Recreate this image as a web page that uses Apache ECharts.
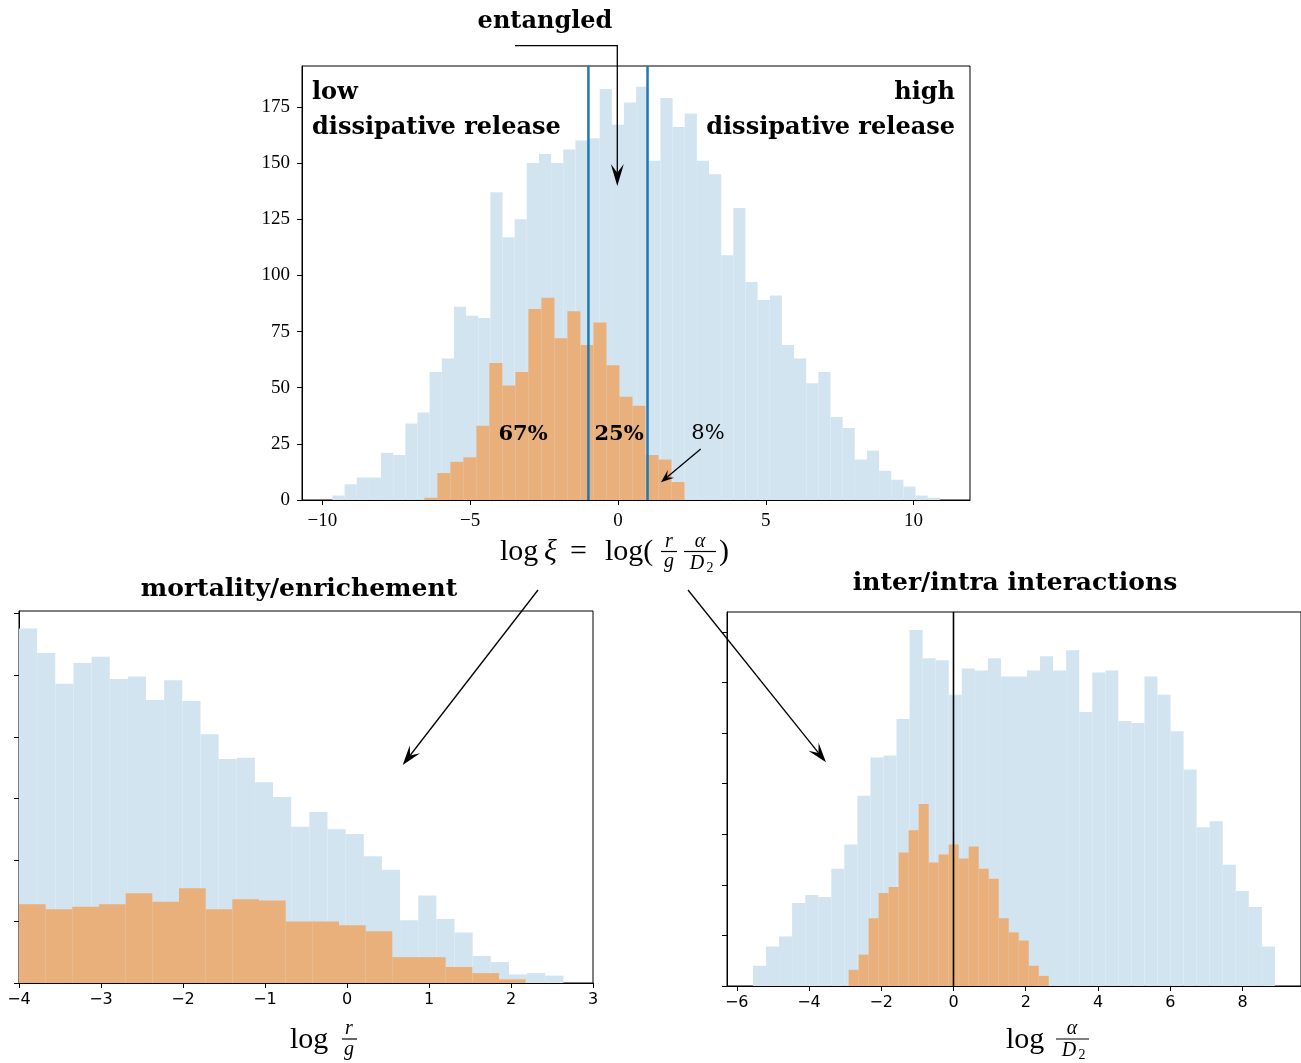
<!DOCTYPE html>
<html>
<head>
<meta charset="utf-8">
<script src="https://cdn.jsdelivr.net/npm/echarts@6/dist/echarts.min.js"></script>
<style>
  html, body { margin: 0; padding: 0; background: #fff; }
  #chart { width: 1301px; height: 1063px; }
</style>
</head>
<body>
<div id="chart"></div>
<script>
// log xi histogram (top)
var xiBlueStart = -9.66;
var xiBlueWidth = 0.411;
var xiBlueCounts = [2, 7, 10, 10, 21, 20, 34, 39, 57, 63, 86, 82, 81, 137, 117, 125, 150, 154, 150, 156,
  160, 161, 183, 167, 177, 184, 151, 179, 166, 172, 151, 145, 109, 130, 97, 89, 91, 69, 63, 52,
  57, 37, 32, 18, 22, 13, 9, 6, 2, 1];
var xiOrangeStart = -6.55;
var xiOrangeWidth = 0.44;
var xiOrangeCounts = [1, 12, 17, 19, 33, 61, 51, 57, 85, 90, 72, 84, 69, 79, 60, 46, 42, 20, 18, 8];
var entangledBounds = [-1, 1];
var xiTicksX = [-10, -5, 0, 5, 10];
var xiTicksY = [0, 25, 50, 75, 100, 125, 150, 175];

// log r/g histogram (bottom left)
var rgBlueStart = -4;
var rgBlueWidth = 0.2213;
var rgBlueCounts = [288, 268, 243, 260, 265, 247, 249, 230, 246, 229, 202, 182, 183, 163, 151, 127, 139, 125, 121, 103,
  92, 51, 71, 52, 41, 22, 17, 7, 8, 6];
var rgOrangeStart = -4;
var rgOrangeWidth = 0.3252;
var rgOrangeCounts = [64, 60, 62, 64, 73, 66, 77, 60, 68, 67, 50, 50, 47, 42, 21, 21, 13, 8, 3];
var rgTicksX = [-4, -3, -2, -1, 0, 1, 2, 3];
var rgTicksY = [0, 50, 100, 150, 200, 250, 300];

// log alpha/D2 histogram (bottom right)
var adBlueStart = -5.55;
var adBlueWidth = 0.3612;
var adBlueCounts = [20, 39, 49, 82, 90, 88, 116, 140, 188, 226, 228, 264, 352, 324, 322, 288, 314, 312, 324, 306,
  306, 312, 326, 312, 332, 271, 310, 312, 262, 260, 306, 288, 252, 214, 157, 163, 120, 94, 78, 39];
var adOrangeStart = -2.903;
var adOrangeWidth = 0.277;
var adOrangeCounts = [16, 31, 67, 92, 98, 132, 154, 180, 122, 130, 140, 126, 138, 116, 106, 67, 53, 45, 20, 10];
var adZero = [0];
var adTicksX = [-6, -4, -2, 0, 2, 4, 6, 8];
var adTicksY = [0, 50, 100, 150, 200, 250, 300, 350];

var BLUE = '#d2e4f0';
var ORANGE = '#e9b07c';
var SERIF = '"Liberation Serif", serif';
var BOLD = '"DejaVu Serif", serif';
var SANS = '"DejaVu Sans", sans-serif';

function minus(v) { return String(v).replace('-', '\u2212'); }

function hist(idx, start, width, counts, color) {
  var data = counts.map(function (c, i) { return [start + i * width, start + (i + 1) * width, c]; });
  return {
    type: 'custom',
    xAxisIndex: idx, yAxisIndex: idx,
    data: data,
    encode: { x: [0, 1], y: 2 },
    silent: true,
    renderItem: function (params, api) {
      var p0 = api.coord([api.value(0), 0]);
      var p1 = api.coord([api.value(1), api.value(2)]);
      return {
        type: 'rect',
        shape: { x: p0[0], y: p1[1], width: p1[0] - p0[0], height: p0[1] - p1[1] },
        style: { fill: color }
      };
    }
  };
}

function vlines(idx, xs, color, w) {
  return {
    type: 'custom',
    xAxisIndex: idx, yAxisIndex: idx,
    data: xs.map(function (x) { return [x]; }),
    encode: { x: 0 },
    silent: true,
    z: 5,
    renderItem: function (params, api) {
      var p = api.coord([api.value(0), 0]);
      var top = params.coordSys.y;
      return {
        type: 'line',
        shape: { x1: p[0], y1: p[1], x2: p[0], y2: top },
        style: { stroke: color, lineWidth: w }
      };
    }
  };
}

function xAx(idx, min, max, ticks, font, size, margin) {
  return {
    type: 'value', gridIndex: idx, min: min, max: max,
    splitLine: { show: false },
    axisLine: { onZero: false, lineStyle: { color: '#000', width: 1 } },
    axisTick: { length: 5, lineStyle: { color: '#000' }, customValues: ticks },
    axisLabel: { color: '#000', fontFamily: font, fontSize: size, margin: margin, customValues: ticks, formatter: minus }
  };
}

function yAx(idx, max, ticks, showLabels) {
  return {
    type: 'value', gridIndex: idx, min: 0, max: max,
    splitLine: { show: false },
    axisLine: { show: true, onZero: false, lineStyle: { color: '#000', width: 1 } },
    axisTick: { show: true, length: 5, lineStyle: { color: '#000' }, customValues: ticks },
    axisLabel: { show: showLabels, color: '#000', fontFamily: SERIF, fontSize: 19, margin: 12, customValues: ticks }
  };
}

function txt(x, y, s, font, align, italic) {
  return {
    type: 'text', x: x, y: y, z: 10,
    style: { text: s, font: (italic ? 'italic ' : '') + font, fill: '#000', align: align || 'left', verticalAlign: 'middle' }
  };
}

function bar(x1, x2, y) {
  return { type: 'line', z: 10, shape: { x1: x1, y1: y, x2: x2, y2: y }, style: { stroke: '#000', lineWidth: 1.2 } };
}

// line with a filled, notched arrow head
function arrow(pts, len, half) {
  var n = pts.length;
  var tip = pts[n - 1], from = pts[n - 2];
  var dx = tip[0] - from[0], dy = tip[1] - from[1];
  var L = Math.sqrt(dx * dx + dy * dy);
  var ux = dx / L, uy = dy / L, px = -uy, py = ux;
  var bx = tip[0] - ux * len, by = tip[1] - uy * len;
  var nx = tip[0] - ux * len * 0.6, ny = tip[1] - uy * len * 0.6;
  var linePts = pts.slice(0, n - 1).concat([[nx, ny]]);
  return [
    { type: 'polyline', z: 10, shape: { points: linePts }, style: { stroke: '#000', lineWidth: 1.3, fill: null } },
    { type: 'polygon', z: 10, shape: { points: [tip, [bx + px * half, by + py * half], [nx, ny], [bx - px * half, by - py * half]] },
      style: { fill: '#000' } }
  ];
}

var graphics = [
  txt(545, 22, 'entangled', 'bold 24px ' + BOLD, 'center'),
  txt(312, 93, 'low', 'bold 24px ' + BOLD),
  txt(312, 128, 'dissipative release', 'bold 24px ' + BOLD),
  txt(955, 93, 'high', 'bold 24px ' + BOLD, 'right'),
  txt(955, 128, 'dissipative release', 'bold 24px ' + BOLD, 'right'),
  txt(523, 435, '67%', 'bold 21px ' + BOLD, 'center'),
  txt(619, 435, '25%', 'bold 21px ' + BOLD, 'center'),
  txt(708, 434, '8%', '21px ' + BOLD, 'center'),
  txt(299, 589, 'mortality/enrichement', 'bold 25px ' + BOLD, 'center'),
  txt(1015, 583, 'inter/intra interactions', 'bold 25px ' + BOLD, 'center'),
  // log xi = log(r/g alpha/D2)
  txt(500, 552, 'log', '30px ' + SERIF),
  txt(544, 552, '\u03be', '30px ' + SERIF, 'left', true),
  txt(570, 552, '=', '30px ' + SERIF),
  txt(605, 552, 'log(', '30px ' + SERIF),
  txt(669, 542, 'r', '20px ' + SERIF, 'center', true),
  bar(661, 677, 551.5),
  txt(669, 562, 'g', '20px ' + SERIF, 'center', true),
  txt(700, 542, '\u03b1', '20px ' + SERIF, 'center', true),
  bar(684, 716, 551.5),
  txt(697, 564, 'D', '20px ' + SERIF, 'center', true),
  txt(710, 568, '2', '14px ' + SERIF, 'center'),
  txt(719, 552, ')', '30px ' + SERIF),
  // log r/g
  txt(290, 1040, 'log', '30px ' + SERIF),
  txt(349, 1029, 'r', '20px ' + SERIF, 'center', true),
  bar(342, 357, 1039),
  txt(349, 1050, 'g', '20px ' + SERIF, 'center', true),
  // log alpha/D2
  txt(1006, 1040, 'log', '30px ' + SERIF),
  txt(1072, 1029, '\u03b1', '20px ' + SERIF, 'center', true),
  bar(1056, 1089, 1039),
  txt(1069, 1051, 'D', '20px ' + SERIF, 'center', true),
  txt(1082, 1055, '2', '14px ' + SERIF, 'center')
];
graphics = graphics
  .concat(arrow([[515, 45.7], [617.3, 45.7], [617.3, 186]], 22, 6.5))
  .concat(arrow([[700.7, 449], [661, 482.3]], 13, 5))
  .concat(arrow([[538, 590], [402.7, 765]], 20, 6.5))
  .concat(arrow([[688, 590], [826, 762.3]], 20, 6.5));

var chart = echarts.init(document.getElementById('chart'));
chart.setOption({
  animation: false,
  backgroundColor: '#fff',
  grid: [
    { left: 302, top: 66, width: 668, height: 434, show: true, borderColor: '#000', borderWidth: 1 },
    { left: 19, top: 611, width: 574, height: 372, show: true, borderColor: '#000', borderWidth: 1 },
    { left: 727, top: 612, width: 576, height: 374, show: true, borderColor: '#000', borderWidth: 1 }
  ],
  xAxis: [
    xAx(0, -10.69, 11.91, xiTicksX, SERIF, 19, 12),
    xAx(1, -4, 3, rgTicksX, SANS, 16, 9),
    xAx(2, -6.27, 9.62, adTicksX, SANS, 16, 9)
  ],
  yAxis: [
    yAx(0, 193.2, xiTicksY, true),
    yAx(1, 302.2, rgTicksY, false),
    yAx(2, 369.8, adTicksY, false)
  ],
  series: [
    hist(0, xiBlueStart, xiBlueWidth, xiBlueCounts, BLUE),
    hist(0, xiOrangeStart, xiOrangeWidth, xiOrangeCounts, ORANGE),
    vlines(0, entangledBounds, '#1f77b4', 2.5),
    hist(1, rgBlueStart, rgBlueWidth, rgBlueCounts, BLUE),
    hist(1, rgOrangeStart, rgOrangeWidth, rgOrangeCounts, ORANGE),
    hist(2, adBlueStart, adBlueWidth, adBlueCounts, BLUE),
    hist(2, adOrangeStart, adOrangeWidth, adOrangeCounts, ORANGE),
    vlines(2, adZero, '#000', 1.6)
  ],
  graphic: graphics
});
</script>
</body>
</html>
